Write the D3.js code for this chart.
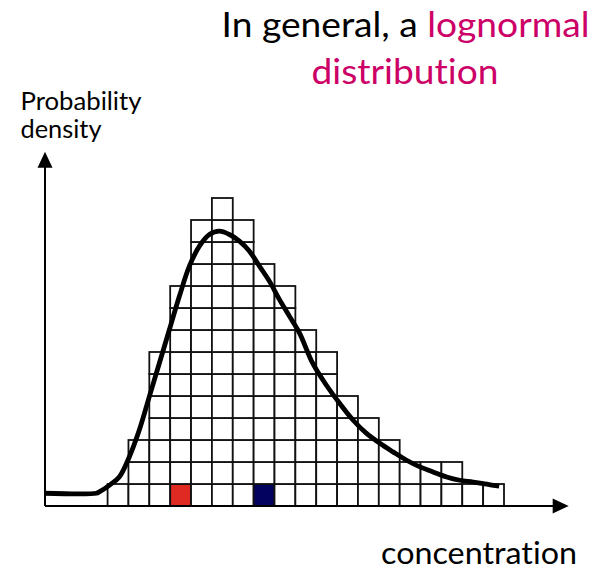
<!DOCTYPE html>
<meta charset="utf-8">
<style>
    body {
        margin: 0;
        background-color: #ffffff;
        font-family: Lato, "Open Sans", sans-serif;
    }
    text {
        font-variant-ligatures: none;
    }
    rect.cell {
        stroke: #111;
        stroke-width: 1.8;
    }
    path.curve {
        fill: none;
        stroke: #000;
        stroke-width: 4.8;
    }
    line.axis {
        stroke: #000;
        stroke-width: 2;
    }
    .pink {
        fill: #cc0066;
    }
</style>
<body>
<script src="https://d3js.org/d3.v7.min.js"></script>
<script>

    // column heights of the histogram, in cells (one per concentration bin)
    var counts = [1, 3, 7, 10, 13, 14, 13, 11, 10, 8, 7, 5, 4, 3, 2, 2, 2, 1, 1];

    // the two coloured cells sit in the bottom row of these bins
    var redBin = 3;
    var blueBin = 7;

    // lognormal curve (bin units, cell units)
    var curveX = [-3.04, -0.54, -0.40, 0.08, 0.56, 1.04, 1.52, 2.00, 2.48, 2.96, 3.44, 3.92,
        4.40, 4.88, 5.36, 5.84, 6.32, 6.80, 7.28, 7.76, 8.24, 8.72, 9.20, 9.83, 10.48,
        11.12, 11.76, 12.41, 13.05, 13.68, 14.33, 14.97, 15.60, 16.25, 16.88, 17.52,
        18.17, 18.77];
    var curveY = [0.58, 0.58, 0.64, 0.94, 1.32, 2.23, 3.45, 4.97, 6.49, 8.01, 9.53, 10.90,
        11.81, 12.34, 12.49, 12.34, 12.04, 11.58, 10.90, 10.21, 9.38, 8.62, 7.86, 6.49, 5.50,
        4.67, 3.91, 3.30, 2.85, 2.46, 2.08, 1.78, 1.55, 1.32, 1.17, 1.09,
        0.99, 0.90];

    var yLabel = ["Probability", "density"];
    var xLabel = "concentration";

    var width = 600,
        height = 571;

    var x = d3.scaleLinear()
            .domain([-3, counts.length])
            .range([45, 504]);

    var y = d3.scaleLinear()
            .domain([0, d3.max(counts)])
            .range([506, 198]);

    var xEnd = 22.1,   // arrow tip of the concentration axis
        yEnd = 16.1;   // arrow tip of the density axis

    var svg = d3.select("body").append("svg")
            .attr("width", width)
            .attr("height", height);

    // histogram cells
    var cells = [];
    counts.forEach(function(c, i) {
        for (var j = 0; j < c; j++) cells.push({bin: i, row: j});
    });

    svg.append("g")
        .selectAll("rect")
        .data(cells)
        .enter().append("rect")
            .attr("class", "cell")
            .attr("x", function(d) { return x(d.bin); })
            .attr("y", function(d) { return y(d.row + 1); })
            .attr("width", function(d) { return x(d.bin + 1) - x(d.bin); })
            .attr("height", function(d) { return y(d.row) - y(d.row + 1); })
            .attr("fill", function(d) {
                if (d.row === 0 && d.bin === redBin) return "#de2a22";
                if (d.row === 0 && d.bin === blueBin) return "#03025f";
                return "#fff";
            });

    // axes with arrow heads
    svg.append("line")
        .attr("class", "axis")
        .attr("x1", x(-3)).attr("y1", y(0))
        .attr("x2", x(xEnd) - 10).attr("y2", y(0));

    svg.append("line")
        .attr("class", "axis")
        .attr("x1", x(-3)).attr("y1", y(0))
        .attr("x2", x(-3)).attr("y2", y(yEnd) + 10);

    var ax = x(xEnd), ay = y(0);
    svg.append("path")
        .attr("d", "M" + ax + "," + ay + "L" + (ax - 16) + "," + (ay - 7.5) + "L" + (ax - 16) + "," + (ay + 7.5) + "Z")
        .attr("fill", "#000");

    var bx = x(-3), by = y(yEnd);
    svg.append("path")
        .attr("d", "M" + bx + "," + by + "L" + (bx - 7.5) + "," + (by + 16) + "L" + (bx + 7.5) + "," + (by + 16) + "Z")
        .attr("fill", "#000");

    // lognormal curve
    var line = d3.line()
            .x(function(d) { return x(d[0]); })
            .y(function(d) { return y(d[1]); })
            .curve(d3.curveCatmullRom);

    svg.append("path")
        .datum(d3.zip(curveX, curveY))
        .attr("class", "curve")
        .attr("d", line);

    // labels
    svg.append("text")
        .attr("x", 20.5)
        .attr("y", 110)
        .attr("textLength", 121)
        .attr("lengthAdjust", "spacingAndGlyphs")
        .style("font-size", "25px")
        .text(yLabel[0]);

    svg.append("text")
        .attr("x", 20.5)
        .attr("y", 138)
        .attr("textLength", 81)
        .attr("lengthAdjust", "spacingAndGlyphs")
        .style("font-size", "25px")
        .text(yLabel[1]);

    svg.append("text")
        .attr("x", 381)
        .attr("y", 564)
        .attr("textLength", 196)
        .attr("lengthAdjust", "spacingAndGlyphs")
        .style("font-size", "30px")
        .text(xLabel);

    var t1 = svg.append("text")
        .attr("x", 221.5)
        .attr("y", 37)
        .attr("textLength", 368)
        .attr("lengthAdjust", "spacingAndGlyphs")
        .style("font-size", "35px");
    t1.append("tspan").text("In general, a ");
    t1.append("tspan").attr("class", "pink").text("lognormal");

    svg.append("text")
        .attr("class", "pink")
        .attr("x", 311.5)
        .attr("y", 84)
        .attr("textLength", 187)
        .attr("lengthAdjust", "spacingAndGlyphs")
        .style("font-size", "35px")
        .text("distribution");

</script>
